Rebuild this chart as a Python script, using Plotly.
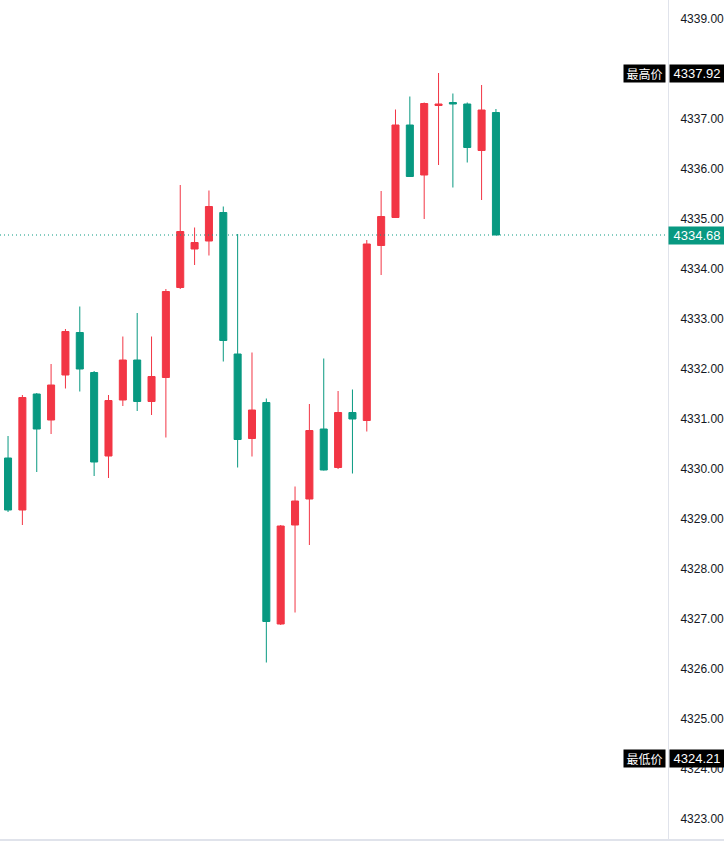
import plotly.graph_objects as go

idx = list(range(35))
opens = [4330.22, 4329.18, 4331.50, 4330.98, 4331.88, 4332.73, 4331.93, 4330.26, 4331.38, 4332.18,
         4331.35, 4331.83, 4333.63, 4334.40, 4334.56, 4335.13, 4332.30, 4330.61, 4331.33, 4326.90,
         4328.88, 4329.40, 4330.80, 4330.03, 4331.13, 4330.97, 4334.47, 4335.03, 4336.88, 4335.88,
         4337.27, 4337.33, 4337.30, 4336.37, 4337.13]
highs = [4330.66, 4331.48, 4331.52, 4332.10, 4332.80, 4333.25, 4331.96, 4331.48, 4332.65, 4333.12,
         4332.65, 4333.60, 4335.68, 4334.83, 4335.57, 4335.25, 4334.70, 4332.33, 4331.41, 4328.88,
         4329.65, 4331.30, 4332.21, 4331.56, 4331.59, 4334.58, 4335.56, 4337.19, 4337.45, 4337.33,
         4337.92, 4337.51, 4337.33, 4337.68, 4337.20]
lows = [4329.14, 4328.88, 4329.94, 4330.70, 4331.61, 4331.55, 4329.86, 4329.82, 4331.26, 4331.16,
        4331.08, 4330.63, 4333.60, 4334.08, 4334.27, 4332.15, 4330.03, 4330.25, 4326.13, 4326.88,
        4327.13, 4328.48, 4329.97, 4330.00, 4329.91, 4330.75, 4333.88, 4335.02, 4335.84, 4335.00,
        4336.08, 4335.63, 4336.13, 4335.38, 4334.68]
closes = [4329.18, 4331.43, 4330.80, 4331.68, 4332.75, 4332.00, 4330.14, 4331.37, 4332.18, 4331.35,
          4331.85, 4333.55, 4334.75, 4334.53, 4335.25, 4332.57, 4330.59, 4331.18, 4326.95, 4328.86,
          4329.36, 4330.77, 4329.98, 4331.13, 4331.00, 4334.50, 4335.05, 4336.88, 4335.85, 4337.31,
          4337.30, 4337.30, 4336.43, 4337.18, 4334.68]

tick_vals = [4323, 4324, 4325, 4326, 4327, 4328, 4329, 4330, 4331, 4332, 4333, 4334, 4335, 4336,
             4337, 4339]
tick_text = ["%.2f" % v for v in tick_vals]

high_label = "最高价"
low_label = "最低价"
high_price = 4337.92
low_price = 4324.21
last_price = 4334.68

RED = "#F23645"
GREEN = "#089981"

fig = go.Figure()
fig.add_trace(go.Candlestick(
    x=idx, open=opens, high=highs, low=lows, close=closes,
    increasing=dict(line=dict(color=RED, width=1), fillcolor=RED),
    decreasing=dict(line=dict(color=GREEN, width=1), fillcolor=GREEN),
    whiskerwidth=0, showlegend=False, hoverinfo="skip",
))

fig.add_shape(type="line", xref="paper", x0=0, x1=1, yref="y", y0=last_price, y1=last_price,
              line=dict(color=GREEN, width=1, dash="1px,3px"))
fig.add_shape(type="line", xref="paper", x0=0, x1=1.09, yref="paper", y0=0, y1=0,
              line=dict(color="#e0e3eb", width=2))

lab_font = dict(family="Liberation Sans, Arial", size=13, color="white")
cjk_font = dict(family="Noto Sans CJK SC", size=12, color="white")
for lab, price, col in [(high_label, high_price, "black"), (low_label, low_price, "black")]:
    fig.add_annotation(xref="paper", x=1, xanchor="right", yref="y", y=price, yanchor="middle",
                       text=lab, showarrow=False, bgcolor=col, font=cjk_font,
                       borderpad=0, height=17, width=41, xshift=-2)
    fig.add_annotation(xref="paper", x=1, xanchor="left", yref="y", y=price, yanchor="middle",
                       text="%.2f" % price, showarrow=False, bgcolor=col, font=lab_font,
                       borderpad=0, height=17, width=54, xshift=1)
fig.add_annotation(xref="paper", x=1, xanchor="left", yref="y", y=last_price, yanchor="middle",
                   text="%.2f" % last_price, showarrow=False, bgcolor=GREEN, font=lab_font,
                   borderpad=0, height=17, width=56, xshift=0)

fig.update_layout(
    width=724, height=844,
    margin=dict(l=0, r=56, t=0, b=4),
    paper_bgcolor="white", plot_bgcolor="white",
    xaxis=dict(range=[-0.56, 45.99], showgrid=False, zeroline=False, showticklabels=False,
               rangeslider=dict(visible=False), fixedrange=True),
    yaxis=dict(range=[4322.58, 4339.38], side="right", showgrid=False, zeroline=False,
               tickvals=tick_vals, ticktext=tick_text, ticks="", ticklabelstandoff=9,
               tickfont=dict(family="Liberation Sans, Arial", size=12, color="#131722"),
               showline=True, linecolor="#e0e3eb", linewidth=1, fixedrange=True),
)

fig.write_html("out.html", config={"displayModeBar": False},
               post_script="document.body.style.margin='0';document.body.style.overflow='hidden';")
